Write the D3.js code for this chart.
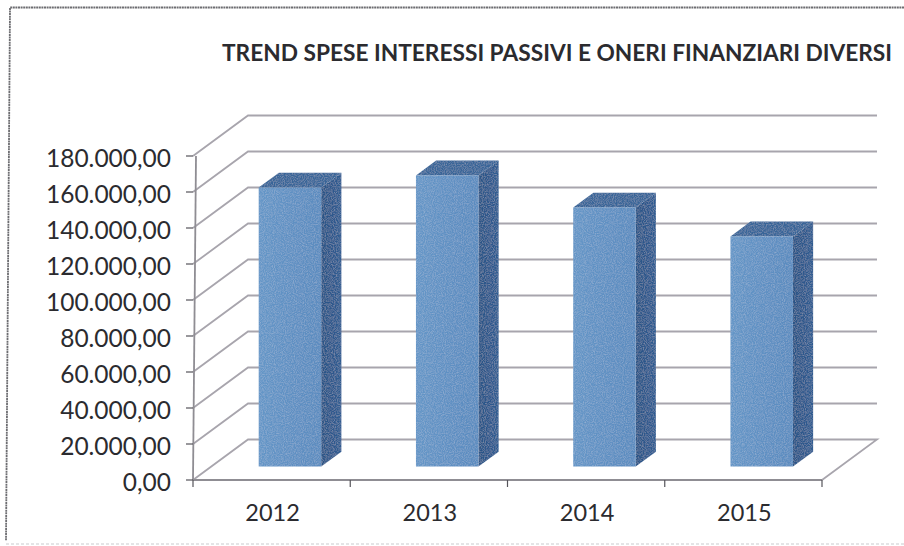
<!DOCTYPE html>
<html><head><meta charset="utf-8">
<script src="https://cdn.jsdelivr.net/npm/d3@7"></script>
<style>html,body{margin:0;padding:0;background:#fff}svg{display:block}text{font-family:Lato,"Open Sans",sans-serif;fill:#2b2b2f}</style>
</head><body><svg id="c" width="904" height="546"></svg>
<script>
const categories = ["2012","2013","2014","2015"];
const values = [155000,161700,143900,127800];
const tickValues = [0,20000,40000,60000,80000,100000,120000,140000,160000,180000];
const tickLabels = ["0,00","20.000,00","40.000,00","60.000,00","80.000,00","100.000,00","120.000,00","140.000,00","160.000,00","180.000,00"];
const chartTitle = "TREND SPESE INTERESSI PASSIVI E ONERI FINANZIARI DIVERSI";

const svg = d3.select("#c");
const y = d3.scaleLinear().domain([0,180000]).range([480,156]);
const x = d3.scaleBand().domain(categories).range([193,822]);
// depth: 0 = front of floor, 1 = back wall
const dx = d3.scaleLinear().domain([0,1]).range([0,55]);
const dy = d3.scaleLinear().domain([0,1]).range([0,-40.5]);
const P = (px,val,d)=>[px+dx(d), y(val)+dy(d)];
const gridCol = "#a8a5ad";
const line = d3.line();

// frame
svg.append("path").attr("d","M904,7.5H10L6,541").attr("fill","none")
  .attr("stroke","#6d6d71").attr("stroke-width",1.8).attr("stroke-dasharray","2 0.6");
svg.append("path").attr("d","M6,544H904").attr("fill","none")
  .attr("stroke","#dcdcde").attr("stroke-width",1.6).attr("stroke-dasharray","3 2");

// gridlines: side wall slant + back wall
const g = svg.append("g").attr("fill","none").attr("stroke",gridCol).attr("stroke-width",1.8);
tickValues.forEach(v=>{
  const pts = [P(x.range()[0],v,0),P(x.range()[0],v,1),P(x.range()[1],v,1)];
  if(v===0) pts.push(P(x.range()[1],v,0));
  g.append("path").attr("d",line(pts));
});

// axes
const ax = svg.append("g").attr("stroke","#8f8d93").attr("stroke-width",1.8).attr("fill","none");
ax.append("path").attr("d",line([[x.range()[0],y(0)],[x.range()[1],y(0)]]));
ax.append("path").attr("d",line([[x.range()[0],y(0)],[x.range()[0]+3,y(180000)]]));
tickValues.forEach(v=>ax.append("path").attr("stroke","#55545a").attr("stroke-width",1.2)
  .attr("d",line([[x.range()[0]-7,y(v)],[x.range()[0],y(v)]])));
[...categories.map(c=>x(c)),x.range()[1]].forEach(px=>ax.append("path").attr("stroke","#55545a").attr("stroke-width",1.2)
  .attr("d",line([[px,y(0)],[px,y(0)+7]])));

// bars
const defs = svg.append("defs");
const lg = defs.append("linearGradient").attr("id","front").attr("x1",0).attr("x2",1).attr("y1",0).attr("y2",0);
lg.append("stop").attr("offset","0%").attr("stop-color","#6596c7");
lg.append("stop").attr("offset","100%").attr("stop-color","#5a8bbf");
const lgs = defs.append("linearGradient").attr("id","side").attr("x1",0).attr("x2",1).attr("y1",0).attr("y2",0);
lgs.append("stop").attr("offset","0%").attr("stop-color","#2b5486");
lgs.append("stop").attr("offset","100%").attr("stop-color","#2f5c92");
const f = defs.append("filter").attr("id","grain").attr("x",0).attr("y",0).attr("width","100%").attr("height","100%");
f.append("feTurbulence").attr("type","fractalNoise").attr("baseFrequency",0.9).attr("numOctaves",2).attr("seed",4).attr("result","n");
f.append("feColorMatrix").attr("in","n").attr("type","matrix")
  .attr("values","0 0 0 0 1  0 0 0 0 1  0 0 0 0 1  0.35 0 0 0 -0.13").attr("result","w");
f.append("feComposite").attr("in","w").attr("in2","SourceAlpha").attr("operator","in").attr("result","wc");
f.append("feMerge").selectAll("feMergeNode").data(["SourceGraphic","wc"]).join("feMergeNode").attr("in",d=>d);
const barW = 62.5;
const d0 = 1/3, d1 = 0.7;
categories.forEach((c,i)=>{
  const l = x(c)+(x.bandwidth()-barW)/2, r = l+barW, v = values[i];
  const gb = svg.append("g").attr("filter","url(#grain)");
  gb.append("path").attr("fill","url(#side)").attr("d",line([P(r,0,d0),P(r,0,d1),P(r,v,d1),P(r,v,d0)])+"Z");
  gb.append("path").attr("fill","#386598").attr("d",line([P(l,v,d0),P(l,v,d1),P(r,v,d1),P(r,v,d0)])+"Z");
  gb.append("path").attr("fill","url(#front)").attr("d",line([P(l,0,d0),P(r,0,d0),P(r,v,d0),P(l,v,d0)])+"Z");
});

// labels
svg.append("g").selectAll("text").data(tickValues).join("text")
  .attr("x",171).attr("y",d=>y(d)+2).attr("dy","0.35em").attr("text-anchor","end")
  .attr("font-size",24.5).text((d,i)=>tickLabels[i]);
svg.append("g").selectAll("text").data(categories).join("text")
  .attr("x",d=>x(d)+x.bandwidth()/2+1).attr("y",513).attr("dy","0.35em").attr("text-anchor","middle")
  .attr("font-size",23.5).text(d=>d);
svg.append("text").attr("x",557).attr("y",53).attr("dy","0.35em").attr("text-anchor","middle")
  .attr("font-size",22.7).attr("font-weight",700).text(chartTitle);
</script></body></html>
